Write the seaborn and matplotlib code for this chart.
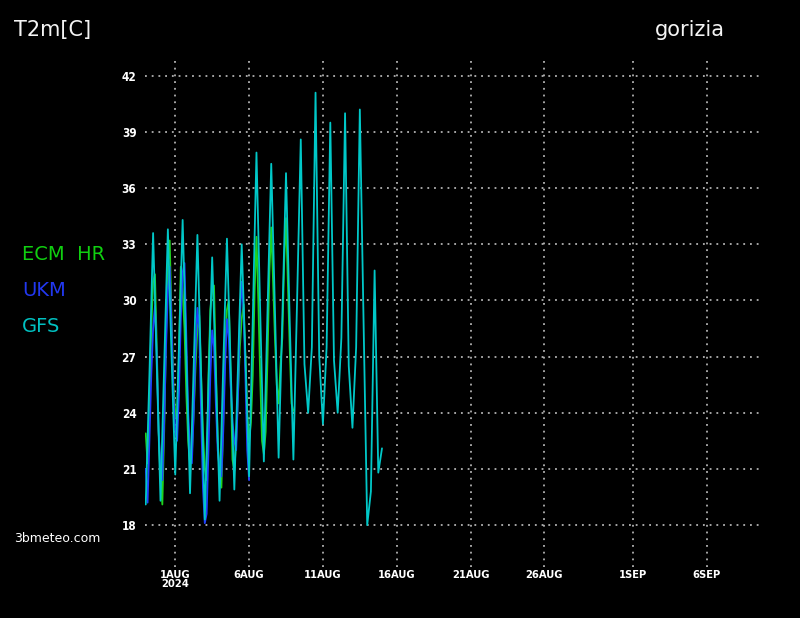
import matplotlib
matplotlib.use('Agg')
import matplotlib.pyplot as plt
import seaborn as sns
import pandas as pd

# ── Data: 2m temperature forecasts for Gorizia (start 30 Jul 2024 00 UTC) ──
START = pd.Timestamp('2024-07-30 00:00')

# ECM HR, 3-hourly
ecm_t2m = [
    22.9, 21.3, 24.5, 28.5, 31.0, 31.4, 27.5, 23.0,   # 30 Jul
    20.5, 19.1, 23.0, 28.0, 32.0, 33.2, 29.0, 25.5,   # 31 Jul
    24.0, 23.5, 27.0, 31.8, 30.5, 28.5, 25.0, 22.5,   # 1 Aug
    21.3, 21.8, 24.0, 26.5, 28.5, 29.2, 26.0, 23.0,   # 2 Aug
    21.0, 20.4, 26.0, 29.5, 30.5, 30.8, 26.5, 22.5,   # 3 Aug
    20.8, 20.0, 23.5, 27.5, 29.5, 30.0, 26.0, 21.5,   # 4 Aug
    20.9, 22.5, 25.0, 27.5, 29.0, 29.8, 27.0, 24.0,   # 5 Aug
    22.5, 23.5, 26.0, 30.5, 33.4, 30.0, 26.0, 22.5,   # 6 Aug
    21.8, 23.0, 27.0, 31.5, 33.9, 31.0, 28.0, 25.5,   # 7 Aug
    24.5, 26.5, 28.0, 32.0, 34.4, 31.0, 27.5, 24.5,   # 8 Aug
    24.1,
]

# UKM, 3-hourly
ukm_t2m = [
    21.0, 19.2, 22.5, 26.0, 28.5, 29.7, 27.0, 23.0,   # 30 Jul
    21.0, 20.4, 23.5, 27.5, 30.5, 31.8, 28.5, 25.0,   # 31 Jul
    23.0, 22.5, 25.0, 29.0, 31.5, 32.0, 28.0, 24.0,   # 1 Aug
    22.0, 21.3, 24.0, 27.5, 29.6, 28.5, 24.0, 20.0,   # 2 Aug
    18.1, 18.6, 22.0, 26.0, 28.4, 27.5, 24.5, 22.0,   # 3 Aug
    21.0, 20.6, 23.0, 26.5, 29.0, 28.0, 25.5, 23.5,   # 4 Aug
    22.5, 22.0, 25.0, 29.0, 31.0, 29.5, 26.0, 22.0,   # 5 Aug
    20.4,
]

# GFS, 6-hourly
gfs_t2m = [
    19.1, 26.0, 33.6, 26.5,   # 30 Jul
    19.3, 26.5, 33.8, 27.0,   # 31 Jul
    20.7, 27.5, 34.3, 27.0,   # 1 Aug
    19.7, 26.5, 33.5, 26.0,   # 2 Aug
    18.3, 25.5, 32.3, 26.0,   # 3 Aug
    19.3, 26.5, 33.3, 26.5,   # 4 Aug
    19.9, 26.5, 33.0, 27.0,   # 5 Aug
    20.6, 29.0, 37.9, 29.5,   # 6 Aug
    21.4, 29.5, 37.3, 29.5,   # 7 Aug
    21.6, 29.0, 36.8, 29.0,   # 8 Aug
    21.5, 30.0, 38.6, 26.6,   # 9 Aug
    24.0, 27.5, 41.1, 27.0,   # 10 Aug
    23.4, 27.5, 39.5, 26.8,   # 11 Aug
    24.0, 28.0, 40.0, 26.5,   # 12 Aug
    23.2, 27.5, 40.2, 29.0,   # 13 Aug
    18.0, 19.8, 31.6, 20.8,   # 14 Aug
    22.1,
]

models = ['ECM HR', 'UKM', 'GFS']
model_steps = ['3h', '3h', '6h']
line_colors = ['#1ed21e', '#2040ff', '#00c8c8']
label_colors = ['#10d010', '#2238f0', '#00c0c0']

tick_dates = ['2024-08-01', '2024-08-06', '2024-08-11', '2024-08-16',
              '2024-08-21', '2024-08-26', '2024-09-01', '2024-09-06']
tick_labels = ['1AUG\n2024', '6AUG', '11AUG', '16AUG', '21AUG', '26AUG', '1SEP', '6SEP']
y_ticks = [18, 21, 24, 27, 30, 33, 36, 39, 42]

# ── Long-form table ───────────────────────────────────────────────────────
frames = []
for name, step, vals in zip(models, model_steps, [ecm_t2m, ukm_t2m, gfs_t2m]):
    frames.append(pd.DataFrame({
        'time': pd.date_range(START, periods=len(vals), freq=step),
        't2m': vals,
        'model': name,
    }))
df = pd.concat(frames, ignore_index=True)

# ── Figure ────────────────────────────────────────────────────────────────
sns.set_style('dark')
plt.rcParams['font.family'] = ['DejaVu Sans']

fig = plt.figure(figsize=(8, 6.18), dpi=100, facecolor='black')
ax = fig.add_axes([0.181, 0.0825, 0.771, 0.8236])
ax.set_facecolor('black')

sns.lineplot(data=df, x='time', y='t2m', hue='model', hue_order=models,
             palette=dict(zip(models, line_colors)), linewidth=1.3,
             estimator=None, legend=False, ax=ax)

ax.set_xlim(pd.Timestamp('2024-07-29 22:30'), pd.Timestamp('2024-09-09 17:00'))
ax.set_ylim(15.76, 42.95)

ax.set_xticks(pd.to_datetime(tick_dates))
ax.set_xticklabels(tick_labels, fontsize=8, fontweight='bold', color='white',
                   linespacing=0.95, fontstretch='condensed')
ax.set_yticks(y_ticks)
ax.set_yticklabels([str(v) for v in y_ticks], fontsize=8.5, fontweight='bold',
                   color='white', fontstretch='condensed')
ax.tick_params(axis='y', length=4, width=1, color='white', direction='out', pad=2)
ax.tick_params(axis='x', length=4, width=1, color='white', direction='in', pad=2)

ax.grid(True, color='#d0d0d0', linestyle=(0, (1.2, 3.2)), linewidth=1.1)
for s in ax.spines.values():
    s.set_visible(False)
ax.set_xlabel('')
ax.set_ylabel('')

# Header and labels
fig.text(14 / 800, 1 - 30 / 618, 'T2m[C]', color='#f4f4f4', fontsize=15,
         va='center', ha='left')
fig.text(655 / 800, 1 - 30 / 618, 'gorizia', color='#f4f4f4', fontsize=15,
         va='center', ha='left')
for i, (name, c) in enumerate(zip(models, label_colors)):
    fig.text(22 / 800, 1 - (255 + 36 * i) / 618, name.replace(' ', '  '),
             color=c, fontsize=14, va='center', ha='left')
fig.text(14 / 800, 1 - 538 / 618, '3bmeteo.com', color='white', fontsize=9,
         va='center', ha='left')

fig.savefig('out.png', dpi=100, facecolor='black')
